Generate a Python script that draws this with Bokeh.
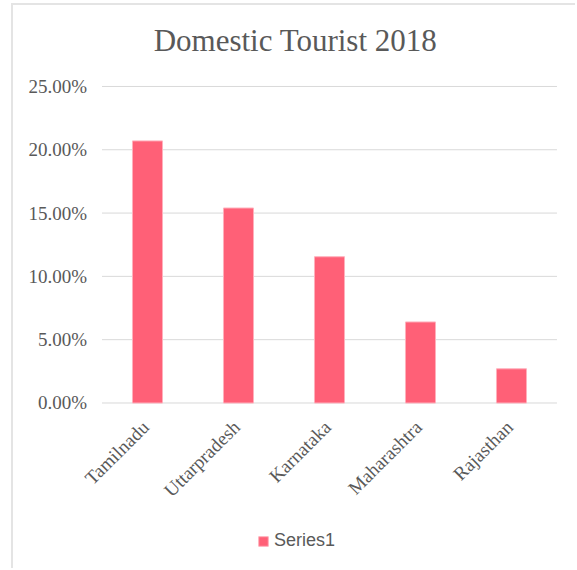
import math
from bokeh.plotting import figure
from bokeh.models import Range1d, Legend, LegendItem, ColumnDataSource
from bokeh.embed import file_html
from bokeh.resources import INLINE

states = ["Tamilnadu", "Uttarpradesh", "Karnataka", "Maharashtra", "Rajasthan"]
share = [0.207, 0.154, 0.1155, 0.064, 0.027]
y_ticks = [0.0, 0.05, 0.10, 0.15, 0.20, 0.25]
y_tick_labels = ["0.00%", "5.00%", "10.00%", "15.00%", "20.00%", "25.00%"]
series_name = "Series1"
title_text = "Domestic Tourist 2018"

n = len(states)
pos = list(range(n))
src = ColumnDataSource(dict(pos=pos, state=states, share=share, base=[0.0] * n))
grid_src = ColumnDataSource(dict(y=y_ticks, label=y_tick_labels,
                                 x0=[-0.5] * len(y_ticks), x1=[n - 0.5] * len(y_ticks)))

p = figure(x_range=Range1d(-1.4725, n - 1 + 0.7253), y_range=Range1d(-0.1323, 0.2626),
           width=564, height=565, output_backend="svg", toolbar_location=None,
           min_border_left=0, min_border_right=0, min_border_top=65, min_border_bottom=0,
           title=title_text)
p.margin = (3, 0, 0, 11)
p.styles = {"border-left": "2px solid #e4e4e4", "border-top": "2px solid #e4e4e4"}
p.outline_line_color = None
p.background_fill_color = "white"
p.border_fill_color = "white"
p.xaxis.visible = False
p.yaxis.visible = False
p.xgrid.grid_line_color = None
p.ygrid.grid_line_color = None

p.title.align = "center"
p.title.text_font = "Liberation Serif"
p.title.text_font_size = "31px"
p.title.text_font_style = "normal"
p.title.text_color = "#595959"
p.title.standoff = 25

# horizontal gridlines over the category span
p.segment(x0="x0", x1="x1", y0="y", y1="y", source=grid_src, line_color="#d9d9d9", line_width=1)
# value-axis tick labels
p.text(x="x0", y="y", text="label", source=grid_src, x_offset=-15,
       text_align="right", text_baseline="middle",
       text_font="Liberation Serif", text_font_size="19px", text_color="#595959")

r = p.vbar(x="pos", top="share", width=0.33, source=src, fill_color="#FF6077",
           line_color="#FFB0BC", line_width=1)

# category labels under the baseline, rotated 45 degrees
p.text(x="pos", y="base", text="state", source=src, angle=math.pi / 4,
       text_align="right", text_baseline="middle", x_offset=-2, y_offset=21,
       text_font="Liberation Serif", text_font_size="19px", text_color="#595959")

legend = Legend(items=[LegendItem(label=series_name, renderers=[r])], orientation="horizontal",
                location=(244, 19), border_line_color=None, background_fill_alpha=0,
                label_text_font="Liberation Sans", label_text_font_size="18px",
                label_text_color="#595959", glyph_width=12, glyph_height=12,
                margin=0, padding=4, spacing=4, label_standoff=5)
p.add_layout(legend, "center")

open("out.html", "w").write(file_html(p, INLINE))
